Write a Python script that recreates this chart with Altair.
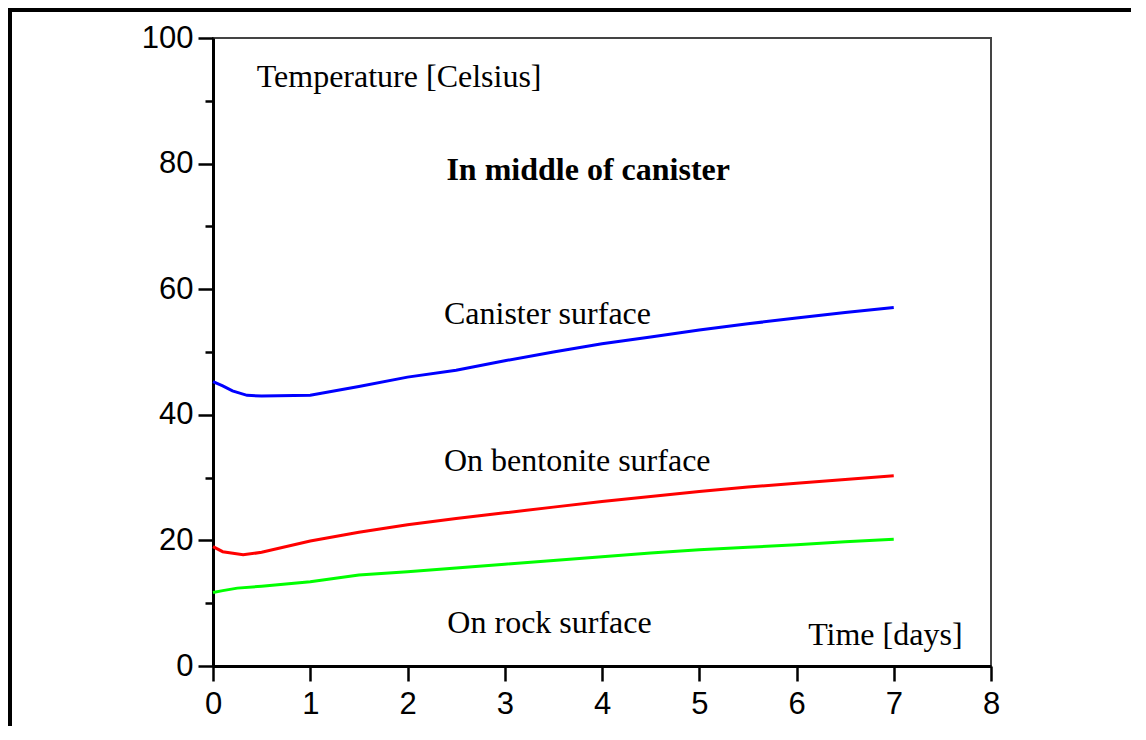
import altair as alt
import pandas as pd

# ---- data ----
days_blue = [0, 0.1, 0.2, 0.35, 0.5, 1.0, 1.5, 2.0, 2.5, 3.0, 3.5, 4.0, 4.5, 5.0, 5.5, 6.0, 6.5, 7.0]
canister = [45.3, 44.6, 43.8, 43.1, 43.0, 43.1, 44.5, 46.0, 47.1, 48.6, 50.0, 51.3, 52.4, 53.5, 54.5, 55.4, 56.3, 57.1]

days_red = [0, 0.1, 0.31, 0.5, 1.0, 1.5, 2.0, 2.5, 3.0, 3.5, 4.0, 4.5, 5.0, 5.5, 6.0, 6.5, 7.0]
bentonite = [19.0, 18.2, 17.7, 18.1, 19.9, 21.3, 22.5, 23.5, 24.4, 25.3, 26.2, 27.0, 27.8, 28.5, 29.1, 29.7, 30.3]

days_green = [0, 0.1, 0.25, 0.5, 1.0, 1.5, 2.0, 2.5, 3.0, 3.5, 4.0, 4.5, 5.0, 5.5, 6.0, 6.5, 7.0]
rock = [11.7, 12.0, 12.4, 12.7, 13.4, 14.5, 15.0, 15.6, 16.2, 16.8, 17.4, 18.0, 18.5, 18.9, 19.3, 19.8, 20.2]

series_names = ["Canister surface", "On bentonite surface", "On rock surface"]
series_colors = ["#0000ff", "#ff0000", "#00ff00"]

x_ticks = [0, 1, 2, 3, 4, 5, 6, 7, 8]
y_ticks = [0, 10, 20, 30, 40, 50, 60, 70, 80, 90, 100]

ann_text = ["Temperature [Celsius]", "Canister surface", "On bentonite surface", "On rock surface", "Time [days]"]
ann_x = [0.45, 2.375, 2.375, 2.41, 6.12]
ann_y = [93.8, 56.1, 32.6, 6.8, 4.9]

title_text = ["In middle of canister"]
title_x = [2.40]
title_y = [79.0]

# ---- tables ----
rows = []
for name, xs, ys in zip(series_names, [days_blue, days_red, days_green], [canister, bentonite, rock]):
    for i, (a, b) in enumerate(zip(xs, ys)):
        rows.append({"day": a, "temp": b, "series": name, "order": i})
df = pd.DataFrame(rows)
ann = pd.DataFrame({"x": ann_x, "y": ann_y, "text": ann_text})
ttl = pd.DataFrame({"x": title_x, "y": title_y, "text": title_text})

W, H = 778, 628

xscale = alt.Scale(domain=[0, 8], nice=False)
yscale = alt.Scale(domain=[0, 100], nice=False)

xaxis = alt.Axis(values=x_ticks, format="d", title=None, grid=False, tickSize=15, tickWidth=2.5,
                 tickColor="black", domainColor="black", domainWidth=3,
                 labelFont="Liberation Sans", labelFontSize=31, labelColor="black",
                 labelPadding=8, labelFlush=False)
yaxis = alt.Axis(values=y_ticks, format="d", title=None, grid=False,
                 tickSize={"condition": {"test": "datum.value % 20 === 0", "value": 15}, "value": 8},
                 tickWidth=2.5, tickColor="black", domainColor="black", domainWidth=3,
                 labelExpr="datum.value % 20 === 0 ? datum.label : ''",
                 labelFont="Liberation Sans", labelFontSize=31, labelColor="black",
                 labelPadding=5, labelFlush=False)

lines = alt.Chart(df).mark_line(strokeWidth=3).encode(
    x=alt.X("day:Q", scale=xscale, axis=xaxis),
    y=alt.Y("temp:Q", scale=yscale, axis=yaxis),
    color=alt.Color("series:N", scale=alt.Scale(domain=series_names, range=series_colors), legend=None),
    order="order:Q",
)

texts = alt.Chart(ann).mark_text(font="Liberation Serif", fontSize=32, align="left",
                                 baseline="middle", color="black").encode(
    x=alt.X("x:Q", scale=xscale), y=alt.Y("y:Q", scale=yscale), text="text:N")

title = alt.Chart(ttl).mark_text(font="Liberation Serif", fontSize=32, fontWeight="bold",
                                 align="left", baseline="middle", color="black").encode(
    x=alt.X("x:Q", scale=xscale), y=alt.Y("y:Q", scale=yscale), text="text:N")

# outer page frame (decoration)
frame_left = alt.Chart(ann).mark_rule(color="black", strokeWidth=4).encode(
    x=alt.value(-203), y=alt.value(-29), y2=alt.value(H + 60))
frame_top = alt.Chart(ann).mark_rule(color="black", strokeWidth=4).encode(
    x=alt.value(-205), x2=alt.value(W + 140), y=alt.value(-28))

chart = alt.layer(lines, texts, title, frame_left, frame_top).properties(
    width=W, height=H,
    autosize=alt.AutoSizeParams(type="none"),
    padding={"left": 205, "top": 30, "right": 140, "bottom": 60},
    background="white",
).configure_view(stroke="#444444", strokeWidth=2)

chart.save("out.html", embed_options={"renderer": "svg", "actions": False})
